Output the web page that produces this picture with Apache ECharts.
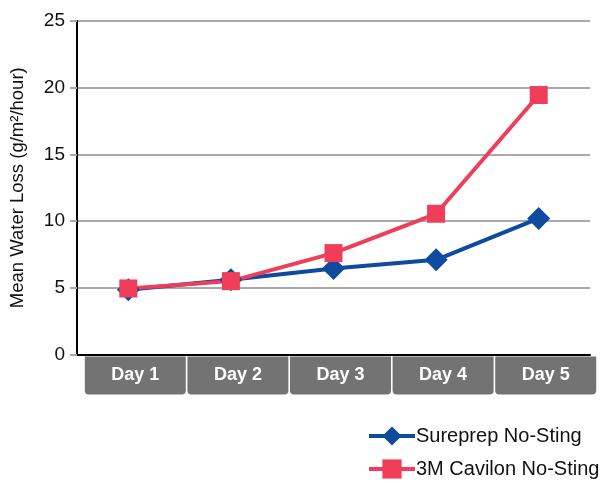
<!DOCTYPE html>
<html>
<head>
<meta charset="utf-8">
<script src="https://cdn.jsdelivr.net/npm/echarts@6/dist/echarts.min.js"></script>
<style>
html,body{margin:0;padding:0;background:#fff;}
#chart{width:601px;height:483px;}
</style>
</head>
<body>
<div id="chart"></div>
<script>
var categories = ['Day 1', 'Day 2', 'Day 3', 'Day 4', 'Day 5'];
var sureprep = [4.85, 5.6, 6.45, 7.1, 10.2];
var cavilon = [4.95, 5.5, 7.6, 10.55, 19.45];
var seriesNames = ['Sureprep No-Sting', '3M Cavilon No-Sting'];
var yTitle = 'Mean Water Loss (g/m\u00b2/hour)';

var FONT = '"Liberation Sans", Arial, Helvetica, sans-serif';
var chart = echarts.init(document.getElementById('chart'), null, {renderer: 'canvas'});
chart.setOption({
  animation: false,
  textStyle: {fontFamily: FONT},
  grid: {left: 77, right: 11, top: 21, bottom: 128.5, containLabel: false, outerBoundsMode: 'none'},
  xAxis: {
    type: 'category',
    data: categories,
    boundaryGap: true,
    axisLine: {show: true, lineStyle: {color: '#000', width: 2}},
    axisTick: {show: false},
    axisLabel: {
      margin: 2,
      interval: 0,
      padding: [0, 0, 0, 14],
      formatter: '{b|{value}}',
      rich: {
        b: {
          backgroundColor: '#737373',
          color: '#fff',
          fontWeight: 'bold',
          fontSize: 18,
          fontFamily: FONT,
          width: 101,
          height: 38,
          lineHeight: 38,
          align: 'center',
          borderRadius: [0, 0, 4, 4]
        }
      }
    },
    splitLine: {show: false}
  },
  yAxis: {
    type: 'value',
    min: 0,
    max: 25,
    interval: 5,
    name: yTitle,
    nameLocation: 'middle',
    nameGap: 50,
    nameTextStyle: {fontSize: 18.5, color: '#111', fontFamily: FONT},
    axisLine: {show: true, lineStyle: {color: '#000', width: 2}},
    axisTick: {show: true, length: 7, lineStyle: {color: '#aaa', width: 2}},
    axisLabel: {fontSize: 19, color: '#111', margin: 12, fontFamily: FONT},
    splitLine: {show: true, lineStyle: {color: '#aaa', width: 2}}
  },
  legend: {
    orient: 'vertical',
    left: 367,
    top: 426,
    padding: 0,
    itemWidth: 46,
    itemHeight: 24,
    itemGap: 13,
    lineStyle: {width: 4},
    textStyle: {fontSize: 20, color: '#111', fontFamily: FONT, padding: [0, 0, 0, -4]},
    data: seriesNames
  },
  series: [
    {
      name: seriesNames[0],
      type: 'line',
      data: sureprep,
      symbol: 'diamond',
      symbolSize: 23,
      itemStyle: {color: '#0E4A9E'},
      lineStyle: {color: '#0E4A9E', width: 4}
    },
    {
      name: seriesNames[1],
      type: 'line',
      data: cavilon,
      symbol: 'rect',
      symbolSize: 18,
      itemStyle: {color: '#EE3E5A'},
      lineStyle: {color: '#EE3E5A', width: 4}
    }
  ]
});
</script>
</body>
</html>
